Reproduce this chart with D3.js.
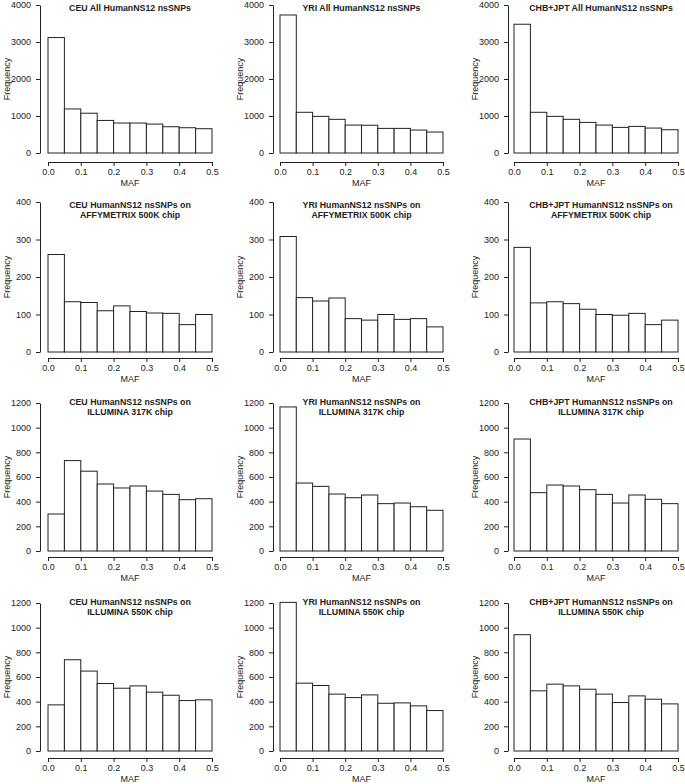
<!DOCTYPE html>
<html>
<head>
<meta charset="utf-8">
<script src="https://cdn.jsdelivr.net/npm/d3@7"></script>
<style>
  html, body { margin: 0; padding: 0; background: #fff; }
  svg { display: block; }
  text { font-family: "Liberation Sans", Arial, Helvetica, sans-serif; fill: #222; }
</style>
</head>
<body>
<svg id="chart" width="685" height="784"></svg>
<script>
// ---- data ----
const binEdges = [0.00, 0.05, 0.10, 0.15, 0.20, 0.25, 0.30, 0.35, 0.40, 0.45, 0.50];
const xTicks = [0.0, 0.1, 0.2, 0.3, 0.4, 0.5];

const ceuAll = [3120, 1190, 1075, 880, 810, 810, 782, 710, 683, 656];
const yriAll = [3730, 1100, 990, 910, 755, 750, 665, 665, 620, 566];
const chbAll = [3480, 1100, 990, 910, 827, 755, 692, 719, 674, 629];

const ceuAffy = [260, 134, 132, 110, 123, 108, 104, 103, 73, 100];
const yriAffy = [308, 145, 136, 144, 89, 85, 100, 87, 89, 67];
const chbAffy = [279, 131, 134, 129, 114, 100, 98, 103, 73, 85];

const ceuIll317 = [300, 733, 647, 543, 511, 527, 486, 459, 416, 424];
const yriIll317 = [1168, 551, 524, 462, 432, 454, 384, 389, 359, 330];
const chbIll317 = [908, 473, 535, 527, 497, 459, 389, 454, 419, 384];

const ceuIll550 = [374, 740, 648, 547, 509, 528, 477, 452, 409, 415];
const yriIll550 = [1205, 550, 531, 461, 433, 455, 387, 390, 366, 328];
const chbIll550 = [943, 488, 542, 528, 501, 461, 393, 447, 420, 382];

const yTicksAll = [0, 1000, 2000, 3000, 4000];
const yTicksAffy = [0, 100, 200, 300, 400];
const yTicksIll = [0, 200, 400, 600, 800, 1000, 1200];

const titlesAll = [["CEU All HumanNS12 nsSNPs"], ["YRI All HumanNS12 nsSNPs"], ["CHB+JPT All HumanNS12 nsSNPs"]];
const titlesAffy = [["CEU HumanNS12 nsSNPs on", "AFFYMETRIX 500K chip"], ["YRI HumanNS12 nsSNPs on", "AFFYMETRIX 500K chip"], ["CHB+JPT HumanNS12 nsSNPs on", "AFFYMETRIX 500K chip"]];
const titlesIll317 = [["CEU HumanNS12 nsSNPs on", "ILLUMINA 317K chip"], ["YRI HumanNS12 nsSNPs on", "ILLUMINA 317K chip"], ["CHB+JPT HumanNS12 nsSNPs on", "ILLUMINA 317K chip"]];
const titlesIll550 = [["CEU HumanNS12 nsSNPs on", "ILLUMINA 550K chip"], ["YRI HumanNS12 nsSNPs on", "ILLUMINA 550K chip"], ["CHB+JPT HumanNS12 nsSNPs on", "ILLUMINA 550K chip"]];

const xLabel = "MAF";
const yLabel = "Frequency";

// ---- layout ----
const rowsSpec = [
  { series: [ceuAll, yriAll, chbAll], ticks: yTicksAll, titles: titlesAll },
  { series: [ceuAffy, yriAffy, chbAffy], ticks: yTicksAffy, titles: titlesAffy },
  { series: [ceuIll317, yriIll317, chbIll317], ticks: yTicksIll, titles: titlesIll317 },
  { series: [ceuIll550, yriIll550, chbIll550], ticks: yTicksIll, titles: titlesIll550 }
];
const colGeom = [
  { axis: 40, x0: 48, x1: 212, titleDx: 0 },
  { axis: 273, x0: 280, x1: 443, titleDx: 0 },
  { axis: 508, x0: 514, x1: 678, titleDx: 5 }
];
const rowGeom = [
  { top: 5, zero: 153, axisY: 162, title: 11 },
  { top: 202, zero: 352, axisY: 358, title: 208 },
  { top: 403, zero: 551, axisY: 557, title: 405 },
  { top: 603, zero: 751, axisY: 758, title: 605 }
];

const svg = d3.select("#chart");
const FS = 9;

rowsSpec.forEach((row, r) => {
  const rg = rowGeom[r];
  const yMax = d3.max(row.ticks);
  const y = d3.scaleLinear().domain([0, yMax]).range([rg.zero, rg.top]);
  row.series.forEach((vals, c) => {
    const cg = colGeom[c];
    const x = d3.scaleLinear().domain([0, 0.5]).range([cg.x0, cg.x1]);
    const g = svg.append("g");

    // bars
    const bins = vals.map((v, i) => ({ lo: binEdges[i], hi: binEdges[i + 1], v }));
    g.selectAll("rect.bar").data(bins).join("rect")
      .attr("class", "bar")
      .attr("x", d => x(d.lo))
      .attr("y", d => y(d.v))
      .attr("width", d => x(d.hi) - x(d.lo))
      .attr("height", d => y(0) - y(d.v))
      .attr("fill", "#fff")
      .attr("stroke", "#222")
      .attr("stroke-width", 1);

    // y axis
    const ya = g.append("g")
      .attr("transform", `translate(${cg.axis},0)`)
      .call(d3.axisLeft(y).tickValues(row.ticks).tickFormat(d3.format("d")).tickSize(4).tickSizeOuter(0).tickPadding(5));
    // x axis
    const xa = g.append("g")
      .attr("transform", `translate(0,${rg.axisY})`)
      .call(d3.axisBottom(x).tickValues(xTicks).tickFormat(d3.format(".1f")).tickSize(4).tickSizeOuter(0).tickPadding(3));
    [ya, xa].forEach(a => {
      a.select(".domain").attr("stroke", "#222");
      a.selectAll(".tick line").attr("stroke", "#222");
      a.selectAll(".tick text").attr("font-size", FS).attr("fill", "#222")
        .attr("font-family", "'Liberation Sans', Arial, Helvetica, sans-serif");
    });

    // axis labels
    g.append("text")
      .attr("x", (cg.x0 + cg.x1) / 2)
      .attr("y", rg.axisY + 24)
      .attr("text-anchor", "middle")
      .attr("font-size", FS)
      .text(xLabel);
    const midY = (rg.top + rg.zero) / 2;
    g.append("text")
      .attr("transform", `translate(${cg.axis - 30},${midY}) rotate(-90)`)
      .attr("text-anchor", "middle")
      .attr("font-size", FS)
      .text(yLabel);

    // title
    const t = g.append("text")
      .attr("text-anchor", "middle")
      .attr("font-size", 8.8)
      .attr("font-weight", "bold");
    row.titles[c].forEach((line, i) => {
      t.append("tspan")
        .attr("x", (cg.x0 + cg.x1) / 2 + cg.titleDx)
        .attr("y", rg.title + i * 10)
        .text(line);
    });
  });
});
</script>
</body>
</html>
